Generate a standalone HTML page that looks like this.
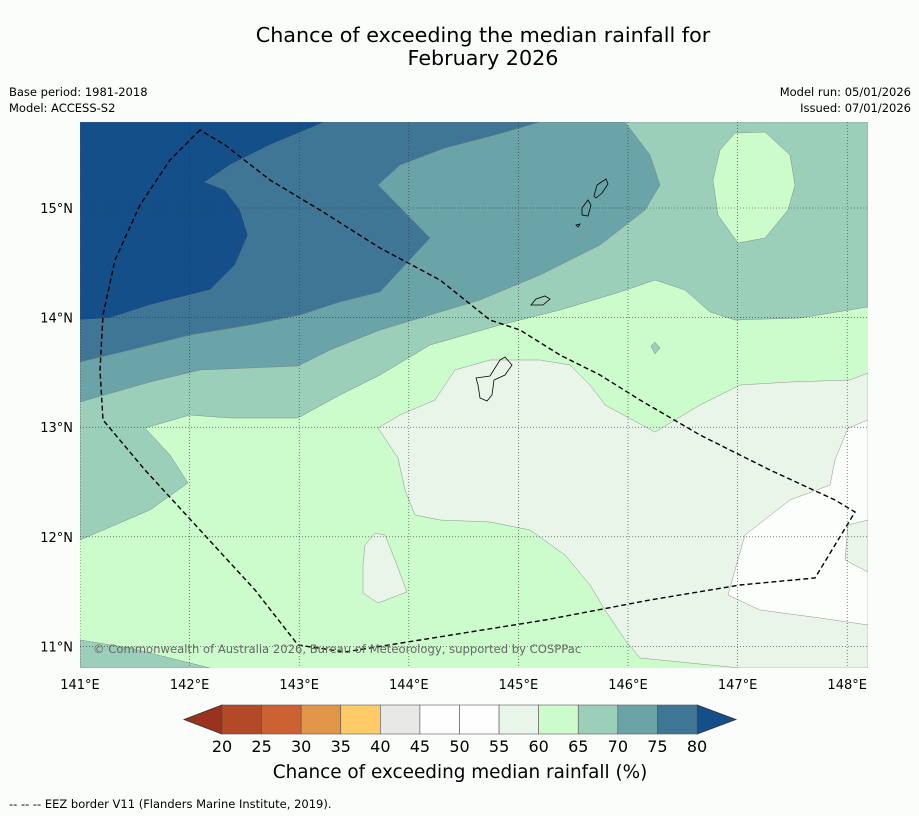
<!DOCTYPE html>
<html><head><meta charset="utf-8"><style>
body{margin:0;background:#fbfdfb;font-family:"DejaVu Sans",sans-serif;}
#root{position:relative;width:919px;height:816px;overflow:hidden;background:#fbfdfb}
</style></head><body>
<div id="root">
<svg width="919" height="816" xmlns="http://www.w3.org/2000/svg" font-family="DejaVu Sans, sans-serif" id="svg">
<text x="483" y="42" font-size="20.7" text-anchor="middle">Chance of exceeding the median rainfall for</text>
<text x="483" y="65" font-size="20.7" text-anchor="middle">February 2026</text>
<text x="9" y="96" font-size="11.5">Base period: 1981-2018</text>
<text x="9" y="112" font-size="11.5">Model: ACCESS-S2</text>
<text x="911" y="96" font-size="11.5" text-anchor="end">Model run: 05/01/2026</text>
<text x="911" y="112" font-size="11.5" text-anchor="end">Issued: 07/01/2026</text>
<defs><clipPath id="mc"><rect x="80" y="122" width="788" height="546"/></clipPath></defs>
<g id="map" clip-path="url(#mc)">
<rect x="80" y="122" width="788" height="546" fill="#ccfccc"/>
<path fill="#9ccfb9" stroke="#777" stroke-width="0.4" d="M80,540 L150,510 L188,483 L170,455 L145,428 L190,415 L230,418 L298,418 L340,395 L380,375 L430,345 L500,325 L560,310 L620,292 L655,280 L685,290 L710,312 L735,320 L800,318 L868,307 L868,122 L80,122Z"/>
<path fill="#9ccfb9" stroke="#777" stroke-width="0.4" d="M80,640 L130,648 L210,668 L80,668Z"/>
<path fill="#9ccfb9" stroke="#777" stroke-width="0.4" d="M651,346 L655,342 L660,348 L655,354Z"/>
<path fill="#ccfccc" stroke="#777" stroke-width="0.4" d="M735,133 L765,132 L790,155 L795,185 L788,210 L765,238 L738,243 L718,215 L713,180 L720,150Z"/>
<path fill="#6aa3a8" stroke="#777" stroke-width="0.4" d="M80,402 L150,382 L200,370 L298,366 L330,350 L380,330 L430,315 L480,300 L540,275 L600,245 L645,210 L660,185 L650,155 L625,122 L80,122Z"/>
<path fill="#3f7696" stroke="#777" stroke-width="0.4" d="M80,362 L130,350 L190,335 L250,325 L300,315 L340,302 L380,292 L430,238 L378,185 L400,165 L445,148 L495,135 L540,122 L80,122Z"/>
<path fill="#154f8a" stroke="#777" stroke-width="0.4" d="M80,320 L110,318 L150,305 L210,290 L235,265 L248,235 L240,210 L225,190 L205,182 L230,165 L270,145 L325,122 L80,122Z"/>
<path fill="#eaf5ea" stroke="#777" stroke-width="0.4" d="M378,428 L400,415 L435,400 L455,370 L490,360 L540,360 L570,365 L590,385 L605,405 L655,432 L700,405 L740,385 L790,382 L850,380 L868,373 L868,668 L740,668 L640,658 L625,640 L605,610 L590,585 L565,555 L530,530 L490,522 L440,520 L415,515 L405,490 L398,458Z"/>
<path fill="#eaf5ea" stroke="#777" stroke-width="0.4" d="M365,545 L375,533 L385,535 L395,560 L407,592 L378,603 L363,593 L363,565Z"/>
<path fill="#fcfefc" stroke="#777" stroke-width="0.4" d="M868,420 L848,428 L835,460 L830,485 L790,500 L745,535 L735,570 L728,595 L760,610 L820,618 L868,625Z"/>
<path fill="#eaf5ea" stroke="#777" stroke-width="0.4" d="M868,520 L848,525 L845,560 L868,572Z"/>
<g fill="none" stroke="#000" stroke-width="0.8">
<path d="M476,378 L490,376 L500,360 L505,357 L512,365 L505,375 L494,380 L492,395 L487,401 L480,398 L478,385Z"/>
<path d="M531,305 L536,299 L545,296 L550,299 L543,305Z"/>
<path d="M582,208 L588,200 L591,205 L588,216 L582,215Z"/>
<path d="M594,196 L597,185 L606,179 L608,184 L602,193 L596,198Z"/>
<path d="M576,225 L580,224 L578,227Z"/>
</g>
<path fill="none" stroke="#000" stroke-width="1.4" stroke-dasharray="5,3" d="M200,130 L170,160 L140,205 L115,260 L103,315 L100,370 L103,420 L145,470 L200,530 L255,590 L298,645 L345,652 L420,640 L545,620 L650,600 L740,585 L815,578 L855,512 L835,500 L770,470 L700,435 L640,400 L600,375 L560,355 L520,330 L490,320 L440,280 L380,248 L320,210 L270,180 L225,145Z"/>
<g id="grid"></g>
<text x="93" y="653" font-size="11.6" fill="#666">© Commonwealth of Australia 2026, Bureau of Meteorology, supported by COSPPac</text>
</g>
<g id="axes"></g>
<g id="cbar"></g>
<text x="460" y="778" font-size="18.4" text-anchor="middle">Chance of exceeding median rainfall (%)</text>
<text x="9" y="808" font-size="11.5">--  --  -- EEZ border V11 (Flanders Marine Institute, 2019).</text>
</svg>
</div>
<script>
const lonTicks=[141,142,143,144,145,146,147,148];
const latTicks=[11,12,13,14,15];
const levels=[20,25,30,35,40,45,50,55,60,65,70,75,80];
const levelColors=["#b24a29","#cc6233","#e29647","#fecb66","#e8e9e5","#fdfefd","#fdfefd","#eaf5ea","#ccfccc","#9ccfb9","#6aa3a8","#3f7696"];
const NS="http://www.w3.org/2000/svg";
const X=lon=>80+(lon-141)*109.6, Y=lat=>208-(lat-15)*109.6;
const CX=v=>222+(v-20)*(697-222)/60;
function mk(t,a,p){const e=document.createElementNS(NS,t);for(const k in a)e.setAttribute(k,a[k]);p.appendChild(e);return e;}
const grid=document.getElementById('grid'),axes=document.getElementById('axes'),cb=document.getElementById('cbar');
lonTicks.forEach(l=>{const x=X(l);
 const g=mk('line',{x1:x,x2:x,y1:122,y2:668,stroke:'#333','stroke-width':0.6,'stroke-dasharray':'1,2'},grid);
 
 const t=mk('text',{x:x,y:689,'font-size':13,'text-anchor':'middle'},axes);t.textContent=l+'°E';
 });
latTicks.forEach(l=>{const y=Y(l);
 const g=mk('line',{x1:80,x2:868,y1:y,y2:y,stroke:'#333','stroke-width':0.6,'stroke-dasharray':'1,2'},grid);
 
 const t=mk('text',{x:73,y:y+5,'font-size':13,'text-anchor':'end'},axes);t.textContent=l+'°N';
 });
const lo=mk('polygon',{points:`${CX(20)},705 ${CX(20)},734 184,719.5`,fill:'#9b3220',stroke:'#333','stroke-width':0.8},cb);

const hi=mk('polygon',{points:`${CX(80)},705 ${CX(80)},734 736,719.5`,fill:'#154f8a',stroke:'#333','stroke-width':0.8},cb);

for(let i=0;i<levelColors.length;i++){
 const r=mk('rect',{x:CX(levels[i]),y:705,width:CX(levels[i+1])-CX(levels[i]),height:29,fill:levelColors[i],stroke:'#555','stroke-width':0.6},cb);
 }
levels.forEach(v=>{const t=mk('text',{x:CX(v),y:752,'font-size':16,'text-anchor':'middle'},cb);t.textContent=v;
 });
</script>
</body></html>
